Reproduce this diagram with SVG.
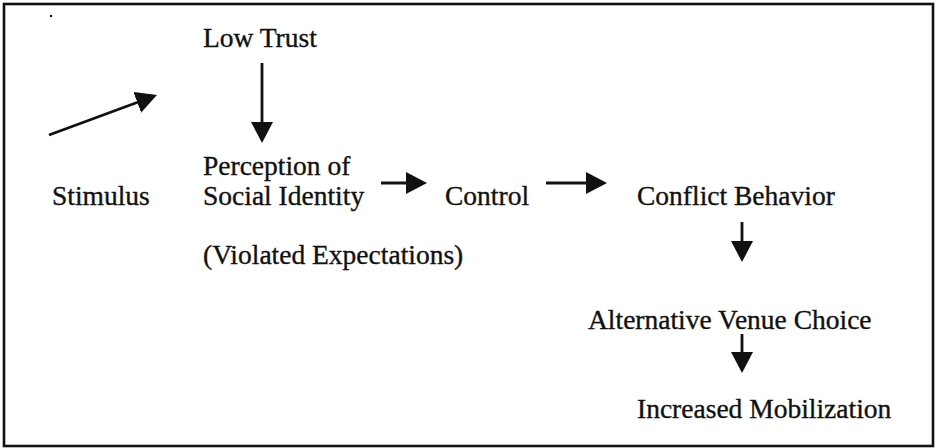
<svg xmlns="http://www.w3.org/2000/svg" width="936" height="448" viewBox="0 0 936 448">
<style>
  .lbl { font-family: "Liberation Serif", Tinos, "Times New Roman", serif; font-size: 27.5px; fill: #111; stroke: #111; stroke-width: 0.35; }
  .conn { stroke: #111; stroke-width: 2.8; fill: none; marker-end: url(#ah); }
  .frame { fill: #fff; stroke: #111; stroke-width: 2.6; }
</style>
<defs>
  <marker id="ah" markerUnits="userSpaceOnUse" markerWidth="24" markerHeight="24" refX="12" refY="11" orient="auto" viewBox="0 0 24 24">
    <path d="M0,0 L21,11 L0,22 Z" fill="#111"/>
  </marker>
</defs>
<rect class="frame" x="4" y="4" width="929" height="442"/>
<circle cx="51" cy="16" r="1.2" fill="#111"/>
<g id="connectors">
  <line class="conn" x1="49" y1="135" x2="148.5" y2="98.2"/>
  <line class="conn" x1="262" y1="63" x2="262" y2="134"/>
  <line class="conn" x1="381" y1="183" x2="418" y2="183"/>
  <line class="conn" x1="546" y1="183" x2="598" y2="183"/>
  <line class="conn" x1="742" y1="222" x2="742" y2="253"/>
  <line class="conn" x1="742" y1="334" x2="742" y2="364"/>
</g>
<g id="low-trust"><text class="lbl" x="203" y="47">Low Trust</text></g>
<g id="stimulus"><text class="lbl" x="52" y="205">Stimulus</text></g>
<g id="perception"><text class="lbl" x="203" y="175">Perception of</text><text class="lbl" x="203" y="205">Social Identity</text></g>
<g id="violated"><text class="lbl" x="203" y="264">(Violated Expectations)</text></g>
<g id="control"><text class="lbl" x="445" y="205">Control</text></g>
<g id="conflict"><text class="lbl" x="637" y="205">Conflict Behavior</text></g>
<g id="venue"><text class="lbl" x="588" y="329">Alternative Venue Choice</text></g>
<g id="mobilization"><text class="lbl" x="637" y="418">Increased Mobilization</text></g>
</svg>
